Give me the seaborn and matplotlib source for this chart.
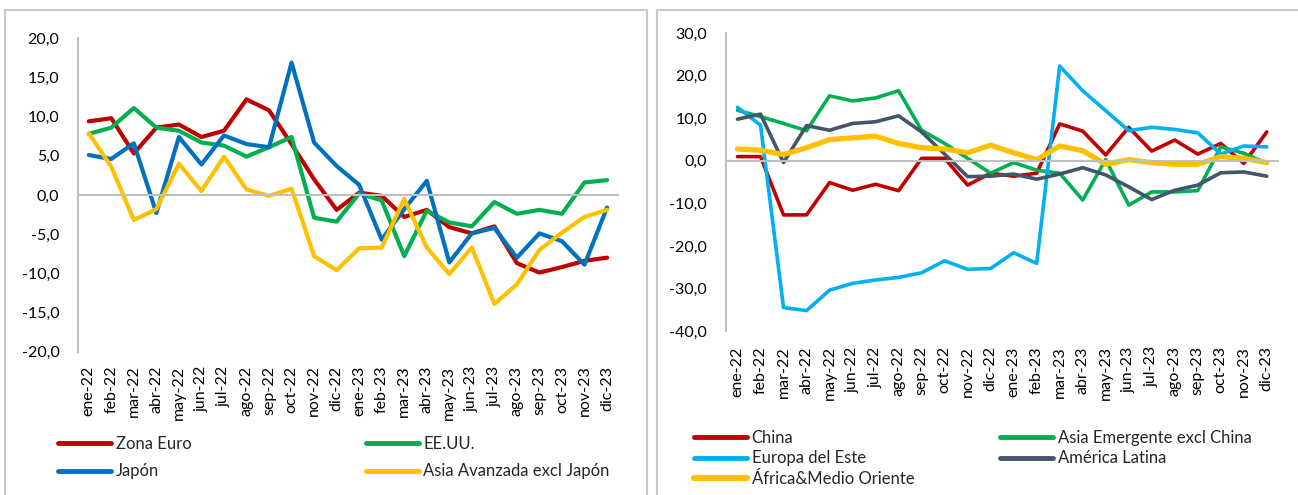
import matplotlib
matplotlib.use('Agg')
import numpy as np
import pandas as pd
import matplotlib.pyplot as plt
import seaborn as sns
from matplotlib.patches import Rectangle
from matplotlib.lines import Line2D
from matplotlib.ticker import FuncFormatter, FixedLocator

# meses
meses = ['ene-22', 'feb-22', 'mar-22', 'abr-22', 'may-22', 'jun-22', 'jul-22', 'ago-22',
         'sep-22', 'oct-22', 'nov-22', 'dic-22', 'ene-23', 'feb-23', 'mar-23', 'abr-23',
         'may-23', 'jun-23', 'jul-23', 'ago-23', 'sep-23', 'oct-23', 'nov-23', 'dic-23']

# panel izquierdo: economias avanzadas
zona_euro = [9.4, 9.8, 5.3, 8.6, 9.0, 7.4, 8.2, 12.2, 10.8, 6.5, 2.0, -1.9,
             0.3, -0.1, -2.8, -1.9, -4.1, -4.9, -4.0, -8.7, -9.9, -9.2, -8.4, -8.0]
ee_uu = [7.8, 8.6, 11.1, 8.6, 8.2, 6.7, 6.3, 4.9, 6.1, 7.4, -2.9, -3.4,
         0.2, -0.7, -7.8, -2.0, -3.5, -4.0, -0.9, -2.4, -1.9, -2.4, 1.6, 1.9]
japon = [5.1, 4.6, 6.6, -2.3, 7.4, 3.9, 7.6, 6.5, 6.1, 16.9, 6.7, 3.7,
         1.3, -5.7, -1.8, 1.8, -8.6, -4.9, -4.2, -8.0, -4.9, -5.9, -8.9, -1.6]
asia_avanzada = [7.9, 3.6, -3.2, -1.8, 4.0, 0.5, 4.9, 0.7, -0.1, 0.8, -7.8, -9.6,
                 -6.8, -6.7, -0.5, -6.7, -10.1, -6.7, -13.9, -11.4, -7.0, -4.8, -2.8, -1.9]

# panel derecho: economias emergentes
china = [1.0, 1.0, -12.7, -12.7, -5.1, -6.9, -5.5, -7.0, 0.6, 0.6, -5.7, -2.9,
         -3.6, -2.9, 8.7, 7.0, 1.4, 7.9, 2.3, 4.9, 1.6, 4.1, -0.6, 6.8]
asia_emergente = [11.9, 10.4, 8.8, 7.1, 15.3, 14.1, 14.8, 16.5, 7.2, 4.1, 0.6, -2.9,
                  -0.4, -2.2, -2.9, -9.2, 0.3, -10.4, -7.3, -7.3, -7.0, 3.3, 1.8, -0.6]
europa_este = [12.6, 8.4, -34.5, -35.2, -30.4, -28.8, -28.0, -27.4, -26.3, -23.5, -25.5, -25.3,
               -21.6, -24.1, 22.3, 16.5, 11.8, 7.1, 7.9, 7.4, 6.6, 1.6, 3.5, 3.3]
america_latina = [9.8, 11.0, -0.4, 8.3, 7.2, 8.8, 9.2, 10.6, 6.8, 1.6, -3.7, -3.6,
                  -3.1, -4.3, -3.1, -1.6, -3.3, -6.1, -9.1, -6.9, -5.7, -2.8, -2.6, -3.6]
africa_mo = [2.8, 2.5, 1.5, 3.1, 5.0, 5.4, 5.8, 4.1, 3.1, 2.8, 1.9, 3.7,
             1.9, 0.3, 3.5, 2.4, -0.8, 0.3, -0.4, -0.8, -0.8, 1.0, 0.6, -0.4]

izq = pd.DataFrame({'mes': meses, 'Zona Euro': zona_euro, 'EE.UU.': ee_uu,
                    'Japón': japon, 'Asia Avanzada excl Japón': asia_avanzada})
der = pd.DataFrame({'mes': meses, 'China': china, 'Asia Emergente excl China': asia_emergente,
                    'Europa del Este': europa_este, 'América Latina': america_latina,
                    'África&Medio Oriente': africa_mo})

colores_izq = {'Zona Euro': '#C00000', 'EE.UU.': '#00B050', 'Japón': '#0070C0',
               'Asia Avanzada excl Japón': '#FFC000'}
colores_der = {'China': '#C00000', 'Asia Emergente excl China': '#00B050',
               'Europa del Este': '#00B0F0', 'América Latina': '#44546A',
               'África&Medio Oriente': '#FFC000'}
grosor_izq = {k: 3.0 for k in colores_izq}
grosor_der = {'China': 2.6, 'Asia Emergente excl China': 2.6, 'Europa del Este': 2.6,
              'América Latina': 2.6, 'África&Medio Oriente': 3.8}

sns.set_style("white")
plt.rcParams['font.family'] = ['Lato', 'DejaVu Sans']
gris = '#BFBFBF'

fig = plt.figure(figsize=(12.98, 4.95), dpi=100)
W, H = 1298, 495


def caja(x0, y0, x1, y1):
    # rectangulo en pixeles (origen arriba a la izquierda)
    return [x0 / W, 1 - y1 / H, (x1 - x0) / W, (y1 - y0) / H]


fig.add_artist(Rectangle((5 / W, -0.1), 642 / W, 1.1 - 10 / H, transform=fig.transFigure,
                         fill=False, edgecolor='#C8C8C8', lw=1.5))
fig.add_artist(Rectangle((657 / W, -0.1), 0.6, 1.1 - 10 / H, transform=fig.transFigure,
                         fill=False, edgecolor='#C8C8C8', lw=1.5))

ax1 = fig.add_axes(caja(77.5, 38.3, 618.3, 351.7))
ax2 = fig.add_axes(caja(726, 33.3, 1278.3, 331))


def dibujar(ax, df, colores, grosores, ylim, paso, pad_y, pad_lab):
    largo = df.melt(id_vars='mes', var_name='serie', value_name='valor')
    for serie in colores:
        sub = largo[largo['serie'] == serie]
        sns.lineplot(data=sub, x='mes', y='valor', color=colores[serie], linewidth=grosores[serie],
                     sort=False, legend=False, ax=ax, solid_joinstyle='round', solid_capstyle='round')
    ax.set_xlim(-0.5, len(meses) - 0.5)
    ax.set_ylim(*ylim)
    ax.set_yticks(np.arange(ylim[0], ylim[1] + 0.1, paso))
    ax.yaxis.set_major_formatter(FuncFormatter(lambda v, p: f'{v:.1f}'.replace('.', ',')))
    ax.set_xlabel('')
    ax.set_ylabel('')
    for s in ['top', 'right']:
        ax.spines[s].set_visible(False)
    ax.spines['left'].set_color(gris)
    ax.spines['left'].set_linewidth(1.5)
    ax.spines['bottom'].set_position(('data', 0))
    ax.spines['bottom'].set_color(gris)
    ax.spines['bottom'].set_linewidth(1.5)
    ax.xaxis.set_major_locator(FixedLocator(np.arange(-0.5, len(meses), 1)))
    ax.tick_params(axis='x', which='major', length=4.5, width=1.5, color=gris, direction='out',
                   labelbottom=False)
    ax.tick_params(axis='y', length=4.5, width=1.5, color=gris, labelsize=11.5, pad=pad_y,
                   labelcolor='#000000')
    ax.grid(False)
    sec = ax.secondary_xaxis(0)
    sec.set_xticks(range(len(meses)), meses, rotation=90)
    sec.tick_params(length=0, labelsize=11.5, pad=pad_lab, labelcolor='#000000')
    sec.spines['bottom'].set_visible(False)


dibujar(ax1, izq, colores_izq, grosor_izq, (-20, 20), 5, 8.5, 10)
dibujar(ax2, der, colores_der, grosor_der, (-40, 30), 10, 9, 11)


def leyenda(series, colores, grosores, x, y, esp):
    handles = [Line2D([0], [0], color=colores[s], lw=grosores[s], solid_capstyle='round') for s in series]
    fig.legend(handles, series, loc='upper left', bbox_to_anchor=(x / W, 1 - y / H),
               bbox_transform=fig.transFigure, frameon=False, fontsize=12,
               handlelength=3.2, handletextpad=0.25, labelspacing=esp,
               borderpad=0, borderaxespad=0)


gi = {k: 3.5 for k in colores_izq}
leyenda(['Zona Euro', 'Japón'], colores_izq, gi, 58, 436, 0.68)
leyenda(['EE.UU.', 'Asia Avanzada excl Japón'], colores_izq, gi, 366, 436, 0.68)
gd = {k: 3.5 for k in colores_der}
gd['África&Medio Oriente'] = 4.5
leyenda(['China', 'Europa del Este', 'África&Medio Oriente'], colores_der, gd, 694, 430, 0.26)
leyenda(['Asia Emergente excl China', 'América Latina'], colores_der, gd, 1000, 430, 0.26)

plt.savefig('out.png', dpi=100)
